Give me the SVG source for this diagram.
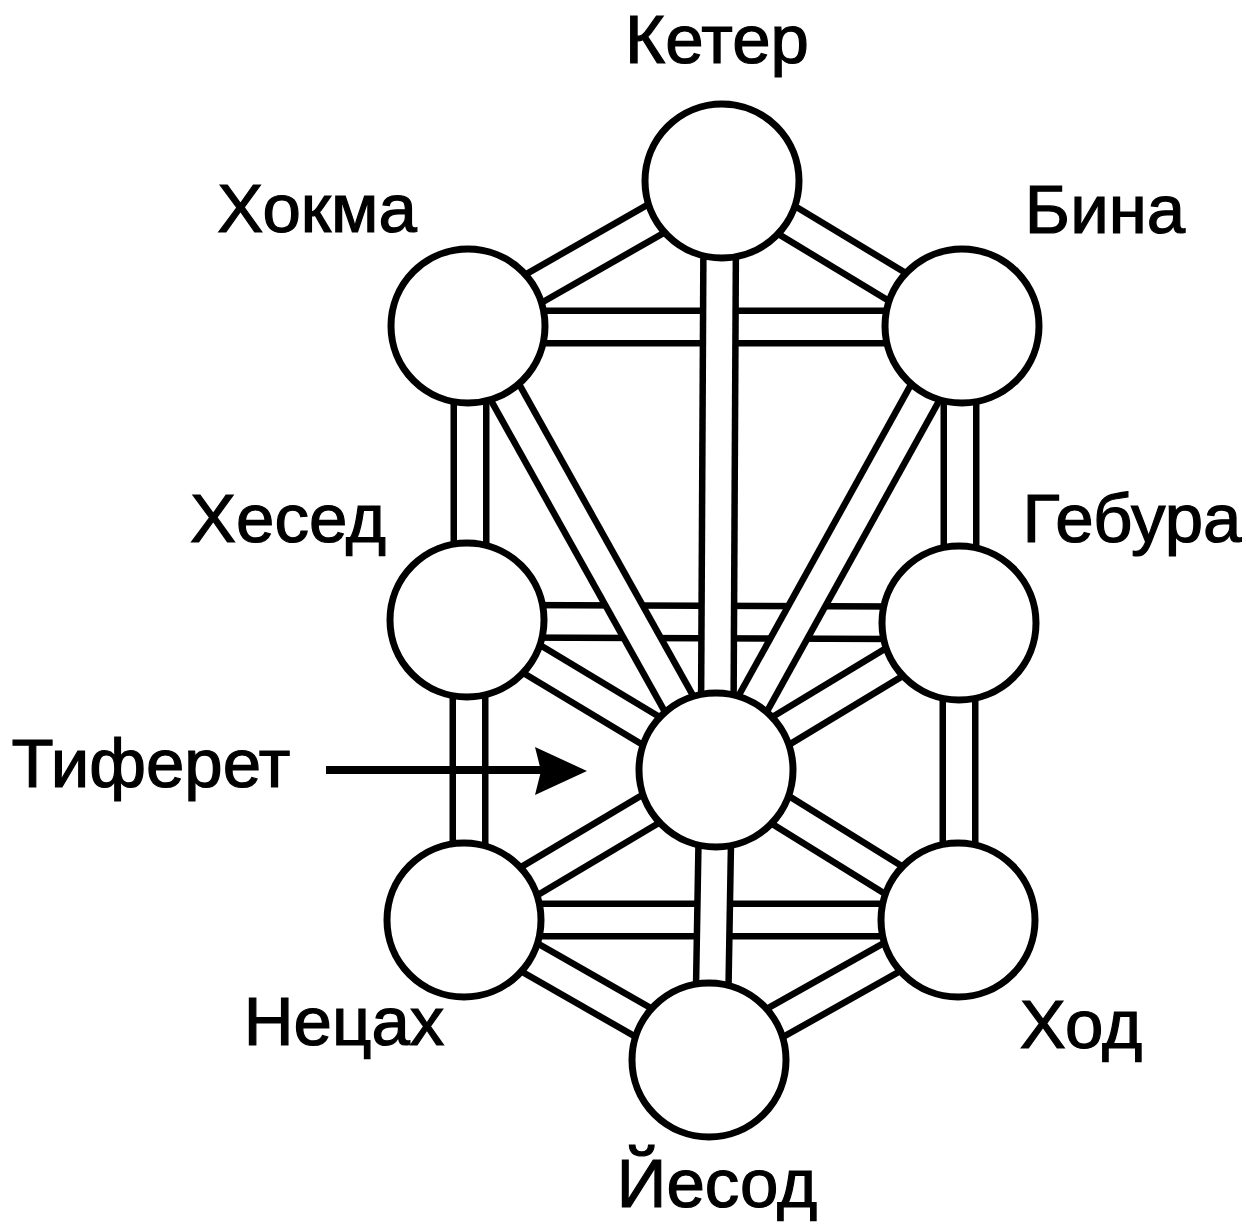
<svg xmlns="http://www.w3.org/2000/svg" width="1246" height="1225" viewBox="0 0 1246 1225">
<style>
.o{stroke:#000;stroke-width:39;stroke-linecap:butt}
.i{stroke:#fff;stroke-width:26;stroke-linecap:butt}
.n{fill:#fff;stroke:#000;stroke-width:7}
.t{font-family:"Liberation Sans",Arial,sans-serif;font-size:69px;fill:#000;stroke:#000;stroke-width:1.2;text-anchor:middle}
</style>
<rect width="1246" height="1225" fill="#fff"/>
<g id="connectors">
<g id="p-hokma-binah"><line class="o" x1="468" y1="327" x2="962" y2="327"/><line class="i" x1="468" y1="327" x2="962" y2="327"/></g>
<g id="p-chesed-gevurah"><line class="o" x1="467" y1="621" x2="959" y2="623"/><line class="i" x1="467" y1="621" x2="959" y2="623"/></g>
<g id="p-netzach-hod"><line class="o" x1="464" y1="920" x2="958" y2="920"/><line class="i" x1="464" y1="920" x2="958" y2="920"/></g>
<g id="p-keter-hokma"><line class="o" x1="722" y1="181" x2="468" y2="326"/><line class="i" x1="722" y1="181" x2="468" y2="326"/></g>
<g id="p-keter-binah"><line class="o" x1="722" y1="181" x2="962" y2="326"/><line class="i" x1="722" y1="181" x2="962" y2="326"/></g>
<g id="p-hokma-chesed"><line class="o" x1="470" y1="326" x2="470" y2="620"/><line class="i" x1="470" y1="326" x2="470" y2="620"/></g>
<g id="p-chesed-netzach"><line class="o" x1="469" y1="620" x2="469" y2="920"/><line class="i" x1="469" y1="620" x2="469" y2="920"/></g>
<g id="p-binah-gevurah"><line class="o" x1="960" y1="326" x2="960" y2="623"/><line class="i" x1="960" y1="326" x2="960" y2="623"/></g>
<g id="p-gevurah-hod"><line class="o" x1="959" y1="623" x2="959" y2="920"/><line class="i" x1="959" y1="623" x2="959" y2="920"/></g>
<g id="p-hokma-tiferet"><line class="o" x1="468" y1="326" x2="716" y2="770"/><line class="i" x1="468" y1="326" x2="716" y2="770"/></g>
<g id="p-binah-tiferet"><line class="o" x1="962" y1="326" x2="716" y2="770"/><line class="i" x1="962" y1="326" x2="716" y2="770"/></g>
<g id="p-chesed-tiferet"><line class="o" x1="467" y1="620" x2="716" y2="770"/><line class="i" x1="467" y1="620" x2="716" y2="770"/></g>
<g id="p-gevurah-tiferet"><line class="o" x1="959" y1="623" x2="716" y2="770"/><line class="i" x1="959" y1="623" x2="716" y2="770"/></g>
<g id="p-netzach-tiferet"><line class="o" x1="464" y1="920" x2="716" y2="770"/><line class="i" x1="464" y1="920" x2="716" y2="770"/></g>
<g id="p-hod-tiferet"><line class="o" x1="958" y1="920" x2="716" y2="770"/><line class="i" x1="958" y1="920" x2="716" y2="770"/></g>
<g id="p-netzach-yesod"><line class="o" x1="464" y1="920" x2="709" y2="1060"/><line class="i" x1="464" y1="920" x2="709" y2="1060"/></g>
<g id="p-hod-yesod"><line class="o" x1="958" y1="920" x2="709" y2="1060"/><line class="i" x1="958" y1="920" x2="709" y2="1060"/></g>
<g id="p-keter-tiferet"><line class="o" x1="720" y1="181" x2="717" y2="770"/><line class="i" x1="720" y1="181" x2="717" y2="770"/></g>
<g id="p-tiferet-yesod"><line class="o" x1="716" y1="770" x2="711" y2="1060"/><line class="i" x1="716" y1="770" x2="711" y2="1060"/></g>
<g id="arrow"><line x1="326" y1="770" x2="542" y2="770" stroke="#000" stroke-width="8"/><polygon points="535,747 587,771 535,795 541,771" fill="#000"/></g>
</g>
<g id="keter"><circle class="n" cx="722" cy="181" r="77"/><text class="t" x="717" y="63">Кетер</text></g>
<g id="hokma"><circle class="n" cx="468" cy="326" r="77"/><text class="t" x="317" y="232">Хокма</text></g>
<g id="binah"><circle class="n" cx="962" cy="326" r="77"/><text class="t" x="1105" y="233">Бина</text></g>
<g id="chesed"><circle class="n" cx="467" cy="620" r="77"/><text class="t" x="288" y="542">Хесед</text></g>
<g id="gevurah"><circle class="n" cx="959" cy="623" r="77"/><text class="t" x="1132" y="542">Гебура</text></g>
<g id="tiferet"><circle class="n" cx="716" cy="770" r="77"/><text class="t" x="151" y="787">Тиферет</text></g>
<g id="netzach"><circle class="n" cx="464" cy="920" r="77"/><text class="t" x="344" y="1045">Нецах</text></g>
<g id="hod"><circle class="n" cx="958" cy="920" r="77"/><text class="t" x="1081" y="1048">Ход</text></g>
<g id="yesod"><circle class="n" cx="709" cy="1060" r="77"/><text class="t" x="717" y="1207">Йесод</text></g>
</svg>
